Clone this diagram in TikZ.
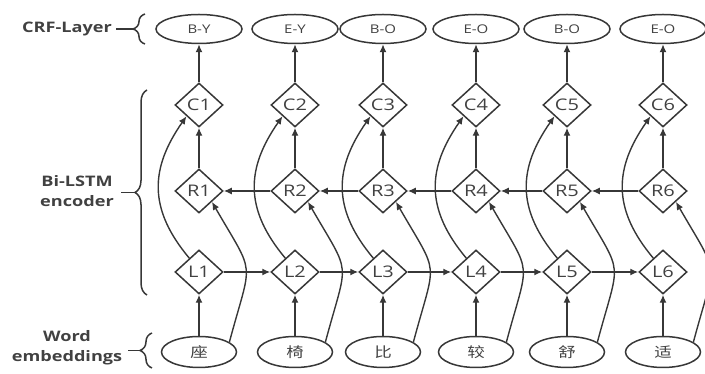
\documentclass[tikz,border=0pt]{standalone}
\usepackage{fontspec}
\setmainfont{Open Sans}[FakeStretch=1.25]
\newfontfamily\cjk{Noto Sans CJK SC}[FakeStretch=1.25]
\usetikzlibrary{shapes.geometric,arrows.meta,decorations.pathreplacing}
\definecolor{ink}{RGB}{55,55,55}
\definecolor{txt}{RGB}{65,65,65}
\tikzset{
  tag/.style={ellipse,draw=ink,line width=1.5pt,minimum width=86pt,minimum height=29pt,inner sep=0pt,font=\fontsize{12}{12}\selectfont,text=txt},
  word/.style={ellipse,draw=ink,line width=1.5pt,minimum width=75pt,minimum height=31pt,inner sep=0pt,font=\cjk\fontsize{14}{14}\selectfont,text=txt},
  cell/.style={diamond,draw=ink,line width=1.5pt,minimum width=48pt,minimum height=44pt,inner sep=0pt,font=\fontsize{16}{16}\selectfont,text=txt},
  arr/.style={draw=ink,line width=1.4pt,-{Latex[length=8pt,width=7pt]}},
  side/.style={font=\bfseries\fontsize{14.5}{20}\selectfont,text=txt,align=center},
  br/.style={draw=ink,line width=1.5pt,decorate,decoration={brace,amplitude=12pt}},
  tick/.style={draw=ink,line width=1.5pt}
}
\begin{document}
\begin{tikzpicture}[x=1pt,y=1pt]
\useasboundingbox (0,0) rectangle (705,374);
% columns
\foreach \i/\x/\t/\w in {1/199/B-Y/座,2/295/E-Y/椅,3/383/B-O/比,4/476/E-O/较,5/567/B-O/舒,6/663/E-O/适}{
  \node[tag]  (T\i) at (\x,345) {\t};
  \node[cell] (C\i) at (\x,269) {C\i};
  \node[cell] (R\i) at (\x,183) {R\i};
  \node[cell] (L\i) at (\x,102) {L\i};
  \node[word] (W\i) at (\x,22)  {\w};
}
\foreach \i in {1,...,6}{
  \draw[arr] (W\i) -- (L\i);
  \draw[arr] (R\i) -- (C\i);
  \draw[arr] (C\i) -- (T\i);
  \draw[arr] (L\i.125) to[out=130,in=-125,looseness=1.15] (C\i.222);
  \draw[arr] (W\i.18) to[out=75,in=-60,looseness=1.6] (R\i.-40);
}
\foreach \i/\j in {1/2,2/3,3/4,4/5,5/6}{
  \draw[arr] (L\i) -- (L\j);
  \draw[arr] (R\j) -- (R\i);
}
% side labels
\node[side] (crf) at (67,345) {CRF-Layer};
\node[side] (bil) at (77,183) {Bi-LSTM\\encoder};
\node[side] (we)  at (67,26)  {Word\\embeddings};
\draw[br] (145,330) -- (145,360) coordinate[midway,xshift=-12pt] (bc);
\draw[tick] (bc) -- ++(-17,0) coordinate (bc2);
\draw[br] (147,79) -- (147,284) coordinate[midway,xshift=-12pt] (bb);
\draw[tick] (bb) -- ++(-14,0) coordinate (bb2);
\draw[br] (152,6) -- (152,41) coordinate[midway,xshift=-12pt] (bw);
\draw[tick] (bw) -- ++(-12,0) coordinate (bw2);
\end{tikzpicture}
\end{document}
